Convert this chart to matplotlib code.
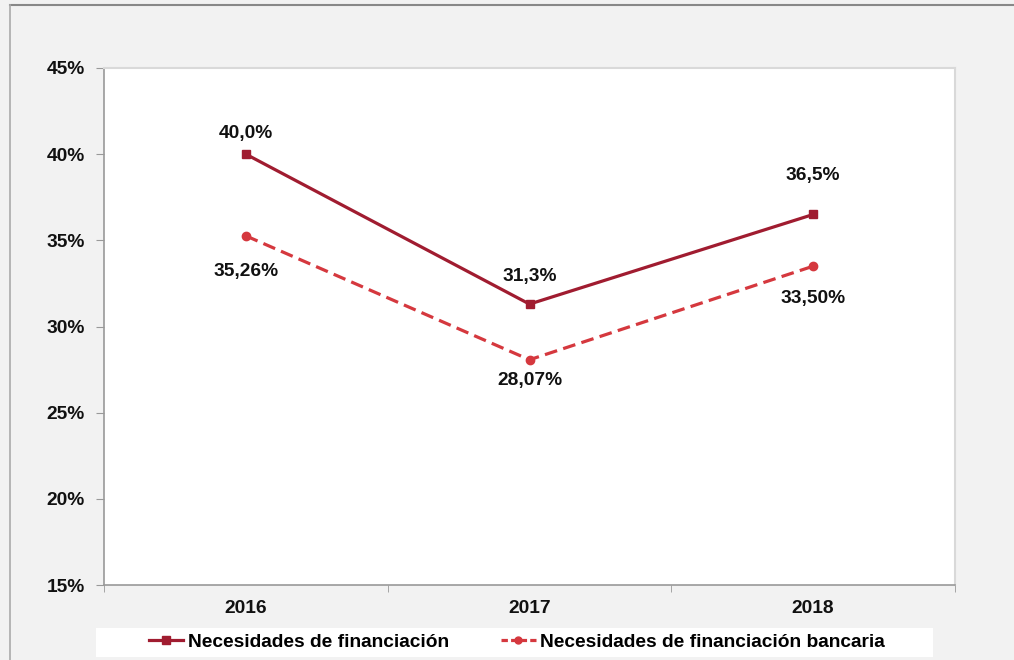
import matplotlib.pyplot as plt
from matplotlib.lines import Line2D
from matplotlib.patches import Rectangle

plt.rcParams['font.family'] = ['Liberation Sans', 'DejaVu Sans']
plt.rcParams['font.weight'] = 'bold'

years = ['2016', '2017', '2018']
necesidades = [40.0, 31.3, 36.5]
necesidades_bancarias = [35.26, 28.07, 33.50]
labels_nec = ['40,0%', '31,3%', '36,5%']
labels_banc = ['35,26%', '28,07%', '33,50%']
y_ticks = [15, 20, 25, 30, 35, 40, 45]

c_solid = '#a01c30'
c_dash = '#d5383e'
fs = 13.8

fig = plt.figure(figsize=(10.14, 6.6), dpi=100, facecolor='#f2f2f2')
ax = fig.add_axes([104/1014, 1-585/660, (955-104)/1014, (585-68)/660])
ax.set_facecolor('white')

x = list(range(len(years)))
ax.plot(x, necesidades, color=c_solid, lw=2.3, marker='s', ms=6, label='Necesidades de financiación')
ax.plot(x, necesidades_bancarias, color=c_dash, lw=2.3, ls=(0, (4, 2)), marker='o', ms=6,
        label='Necesidades de financiación bancaria')

# label offsets in pixels (up positive)
px = 72/100
off_nec = [21, 28, 39]
off_banc = [-36, -21, -32]
for i in x:
    ax.annotate(labels_nec[i], (i, necesidades[i]), xytext=(0, off_nec[i]*px), textcoords='offset points',
                ha='center', va='center', fontsize=fs, fontweight='bold', color='#111111')
    ax.annotate(labels_banc[i], (i, necesidades_bancarias[i]), xytext=(0, off_banc[i]*px),
                textcoords='offset points', ha='center', va='center', fontsize=fs,
                fontweight='bold', color='#111111')

ax.set_xlim(-0.5, 2.5)
ax.set_ylim(15, 45)
ax.set_yticks(y_ticks)
ax.set_yticklabels([f'{t}%' for t in y_ticks])
ax.set_xticks(x)
ax.set_xticklabels(years)
ax.set_xticks([-0.5, 0.5, 1.5, 2.5], minor=True)
ax.tick_params(axis='x', which='major', length=0, pad=11, labelsize=fs, colors='#111111')
ax.tick_params(axis='x', which='minor', length=5, color='#999999')
ax.tick_params(axis='y', length=6, color='#999999', pad=8, labelsize=fs, colors='#111111')
for lab in ax.get_xticklabels() + ax.get_yticklabels():
    lab.set_fontweight('bold')
for s in ['left', 'bottom']:
    ax.spines[s].set_color('#999999')
    ax.spines[s].set_linewidth(1.2)
for s in ['top', 'right']:
    ax.spines[s].set_color('#d9d9d9')
    ax.spines[s].set_linewidth(1.5)

# outer frame lines (top and left)
fig.add_artist(Line2D([10/1014, 1], [1-5/660, 1-5/660], color='#888888', lw=1.5))
fig.add_artist(Line2D([10/1014, 10/1014], [0, 1-5/660], color='#aaaaaa', lw=1.2))

# legend box
fig.add_artist(Rectangle((96/1014, 1-657/660), (933-96)/1014, 29/660, facecolor='white',
                         edgecolor='none', transform=fig.transFigure))
handles = [Line2D([], [], color=c_solid, lw=2.3, marker='s', ms=6),
           Line2D([], [], color=c_dash, lw=2.3, ls=(0, (2, 1)), marker='o', ms=5)]
fig.legend(handles, ['Necesidades de financiación', 'Necesidades de financiación bancaria'],
           loc='center', bbox_to_anchor=(517/1014, 1-642/660), ncol=2, frameon=False,
           prop={'size': fs, 'weight': 'bold'}, handlelength=1.8, handletextpad=0.25,
           columnspacing=2.7, borderpad=0.2)

fig.savefig('out.png', dpi=100, facecolor=fig.get_facecolor())
